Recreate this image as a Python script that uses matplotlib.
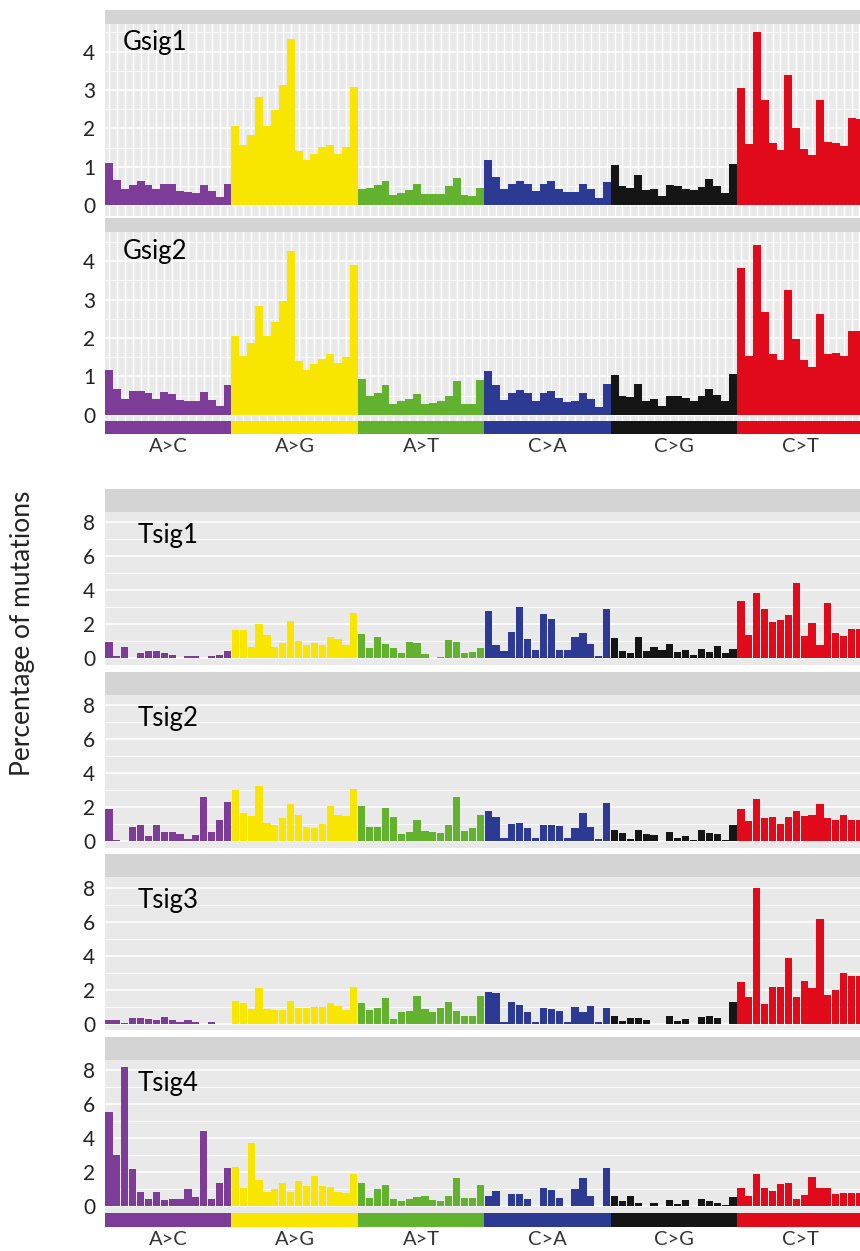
import matplotlib
matplotlib.use("Agg")
import matplotlib.pyplot as plt
import numpy as np

plt.rcParams['font.family'] = ['Lato', 'DejaVu Sans']

# six substitution classes, 16 trinucleotide contexts each
mutation_types = ['A>C', 'A>G', 'A>T', 'C>A', 'C>G', 'C>T']
type_colors = ['#7d3c98', '#f9e600', '#62b22f', '#2d3a94', '#151515', '#e10a1a']

gsig1 = [1.11, 0.65, 0.41, 0.52, 0.63, 0.52, 0.41, 0.56, 0.56, 0.37, 0.35, 0.33, 0.52, 0.36, 0.22, 0.56,
         2.05, 1.58, 1.83, 2.83, 2.07, 2.48, 3.13, 4.33, 1.40, 1.17, 1.34, 1.52, 1.56, 1.34, 1.52, 3.07,
         0.41, 0.46, 0.52, 0.62, 0.26, 0.33, 0.39, 0.55, 0.28, 0.29, 0.30, 0.50, 0.72, 0.26, 0.23, 0.45,
         1.17, 0.74, 0.41, 0.56, 0.62, 0.56, 0.37, 0.56, 0.62, 0.43, 0.35, 0.35, 0.55, 0.41, 0.19, 0.61,
         1.04, 0.49, 0.46, 0.80, 0.39, 0.43, 0.23, 0.52, 0.50, 0.42, 0.39, 0.48, 0.67, 0.49, 0.33, 1.08,
         3.05, 1.60, 4.50, 2.75, 1.63, 1.45, 3.38, 2.01, 1.47, 1.32, 2.73, 1.65, 1.63, 1.54, 2.28, 2.25]

gsig2 = [1.16, 0.68, 0.42, 0.61, 0.63, 0.57, 0.42, 0.58, 0.55, 0.39, 0.37, 0.37, 0.58, 0.39, 0.24, 0.77,
         2.04, 1.52, 1.87, 2.83, 2.04, 2.41, 2.96, 4.26, 1.39, 1.16, 1.33, 1.45, 1.57, 1.35, 1.50, 3.91,
         0.94, 0.48, 0.57, 0.77, 0.28, 0.37, 0.42, 0.55, 0.29, 0.30, 0.37, 0.50, 0.87, 0.28, 0.28, 0.91,
         1.14, 0.78, 0.39, 0.57, 0.65, 0.57, 0.37, 0.57, 0.61, 0.43, 0.33, 0.36, 0.57, 0.42, 0.20, 0.81,
         1.03, 0.48, 0.46, 0.81, 0.36, 0.42, 0.24, 0.49, 0.48, 0.44, 0.36, 0.48, 0.68, 0.52, 0.35, 1.07,
         3.83, 1.53, 4.42, 2.68, 1.59, 1.42, 3.26, 1.96, 1.42, 1.24, 2.62, 1.57, 1.62, 1.52, 2.17, 2.17]

tsig1 = [0.94, 0.14, 0.65, 0.00, 0.29, 0.43, 0.43, 0.33, 0.16, 0.00, 0.14, 0.14, 0.00, 0.14, 0.18, 0.45,
         1.63, 1.67, 0.63, 2.02, 1.37, 0.63, 0.88, 2.20, 1.02, 0.75, 0.88, 0.75, 1.27, 1.14, 0.75, 2.65,
         1.41, 0.59, 1.27, 0.82, 0.59, 0.33, 0.94, 0.88, 0.24, 0.00, 0.06, 1.08, 0.94, 0.33, 0.35, 0.59,
         2.75, 0.78, 0.45, 1.57, 3.00, 1.14, 0.49, 2.61, 2.31, 0.49, 0.49, 1.22, 1.47, 0.84, 0.10, 2.88,
         1.18, 0.45, 0.33, 1.22, 0.43, 0.63, 0.49, 0.84, 0.39, 0.49, 0.20, 0.55, 0.39, 0.69, 0.29, 0.55,
         3.37, 1.37, 3.86, 2.90, 2.10, 2.25, 2.55, 4.41, 1.31, 2.06, 0.78, 3.24, 1.51, 1.33, 1.71, 1.71]

tsig2 = [1.87, 0.08, 0.00, 0.83, 0.96, 0.27, 0.96, 0.53, 0.53, 0.43, 0.14, 0.33, 2.59, 0.53, 1.22, 2.30,
         2.99, 1.65, 1.45, 3.22, 1.06, 0.92, 1.32, 2.16, 1.51, 0.83, 0.73, 1.02, 2.04, 1.55, 1.47, 3.03,
         2.04, 0.83, 0.79, 1.91, 1.41, 0.39, 0.53, 1.22, 0.59, 0.53, 0.49, 0.92, 2.59, 0.59, 0.77, 1.51,
         1.75, 1.38, 0.20, 1.02, 1.08, 0.73, 0.20, 0.96, 0.92, 0.88, 0.20, 0.77, 1.67, 0.79, 0.14, 2.24,
         0.63, 0.47, 0.14, 0.63, 0.43, 0.33, 0.00, 0.53, 0.20, 0.27, 0.05, 0.63, 0.47, 0.39, 0.08, 0.96,
         1.87, 1.18, 2.44, 1.36, 1.38, 1.02, 1.38, 1.75, 1.47, 1.51, 2.20, 1.32, 1.22, 1.51, 1.22, 1.22]

tsig3 = [0.20, 0.20, 0.05, 0.33, 0.33, 0.28, 0.20, 0.40, 0.20, 0.10, 0.20, 0.06, 0.00, 0.10, 0.00, 0.00,
         1.30, 1.20, 0.85, 2.07, 0.85, 0.79, 0.79, 1.30, 0.89, 0.89, 1.00, 0.95, 1.18, 1.04, 0.79, 2.17,
         1.18, 0.81, 0.89, 1.50, 0.26, 0.65, 0.71, 1.64, 0.85, 0.65, 0.89, 1.28, 0.75, 0.45, 0.45, 1.60,
         1.83, 1.77, 0.10, 1.28, 1.08, 0.69, 0.10, 0.91, 0.85, 0.71, 0.10, 0.99, 0.65, 1.04, 0.10, 0.91,
         0.45, 0.16, 0.31, 0.31, 0.20, 0.00, 0.00, 0.45, 0.16, 0.26, 0.00, 0.39, 0.45, 0.30, 0.00, 1.28,
         2.42, 1.58, 8.00, 1.14, 2.13, 2.13, 3.86, 1.58, 2.48, 2.07, 6.17, 1.69, 1.99, 2.98, 2.82, 2.82]

tsig4 = [5.53, 3.00, 8.20, 2.17, 0.83, 0.43, 0.83, 0.36, 0.40, 0.40, 0.99, 0.55, 4.41, 0.40, 1.38, 2.23,
         2.31, 1.09, 3.70, 1.52, 0.85, 0.99, 1.38, 0.85, 1.48, 1.19, 1.78, 1.19, 1.15, 0.85, 0.79, 1.88,
         1.34, 0.49, 0.99, 1.23, 0.40, 0.30, 0.40, 0.55, 0.59, 0.36, 0.30, 0.59, 1.68, 0.49, 0.49, 1.23,
         0.59, 0.89, 0.04, 0.73, 0.73, 0.45, 0.04, 1.09, 0.95, 0.49, 0.04, 0.99, 1.64, 0.59, 0.04, 2.27,
         0.59, 0.30, 0.59, 0.20, 0.04, 0.20, 0.00, 0.34, 0.14, 0.34, 0.00, 0.43, 0.30, 0.20, 0.10, 0.55,
         1.09, 0.59, 1.92, 1.09, 0.89, 1.28, 1.34, 0.40, 0.63, 1.72, 1.09, 1.09, 0.69, 0.79, 0.79, 0.79]

W, H = 860, 1251
fig = plt.figure(figsize=(W / 100, H / 100), dpi=100)

X0 = 105            # left edge of the panels, px
XW = 96 * 7.9       # panel width (runs slightly past the right edge)
x = np.arange(96)
bar_colors = np.repeat(type_colors, 16)
panel_bg = '#e9e9e9'
strip_bg = '#d4d4d4'


def px_axes(top, height, left=X0, width=XW):
    return fig.add_axes([left / W, 1 - (top + height) / H, width / W, height / H])


def strip(top, height):
    ax = px_axes(top, height)
    ax.set_facecolor(strip_bg)
    ax.set_xticks([])
    ax.set_yticks([])
    for s in ax.spines.values():
        s.set_visible(False)


def panel(top, height, values, ylim, major, minor, kind):
    ax = px_axes(top, height)
    ax.set_facecolor(panel_bg)
    width = 1.0 if kind == 'G' else 0.9
    ax.bar(x, values, width=width, color=bar_colors, linewidth=0, zorder=3)
    ax.set_xlim(-0.5, 95.5)
    ax.set_ylim(*ylim)
    ax.set_yticks(major)
    ax.set_yticks(minor, minor=True)
    ax.set_yticklabels([str(v) for v in major], fontsize=15, color='#222222')
    ax.grid(axis='y', which='major', color='white', lw=1.1)
    ax.grid(axis='y', which='minor', color='white', lw=0.6)
    if kind == 'G':
        ax.set_xticks(x)
        ax.grid(axis='x', which='major', color='white', lw=1.0)
    else:
        ax.set_xticks([])
    ax.set_xticklabels([])
    ax.set_axisbelow(True)
    ax.tick_params(which='both', length=0, pad=7)
    for s in ax.spines.values():
        s.set_visible(False)
    return ax


def band(top, height):
    ax = px_axes(top, height)
    centers = np.arange(6) * 16 + 7.5
    ax.bar(centers, np.ones(6), width=16, color=type_colors, linewidth=0)
    ax.set_xlim(-0.5, 95.5)
    ax.set_ylim(0, 1)
    ax.set_yticks([])
    ax.set_xticks(centers)
    ax.set_xticklabels(mutation_types, fontsize=14.5, color='#333333')
    ax.tick_params(length=0, pad=3)
    for s in ax.spines.values():
        s.set_visible(False)


def label(px, py, text, size):
    fig.text(px / W, 1 - py / H, text, fontsize=size, color='black', va='baseline')


# genome-derived signatures
g_major = [0, 1, 2, 3, 4]
g_minor = [0.5, 1.5, 2.5, 3.5, 4.5]
strip(9.5, 14)
panel(23.5, 192.5, gsig1, (-0.28, 4.73), g_major, g_minor, 'G')
label(122.5, 50, 'Gsig1', 18.5)
strip(218, 14)
panel(232, 188.5, gsig2, (-0.15, 4.76), g_major, g_minor, 'G')
label(122.5, 259.5, 'Gsig2', 18.5)
band(421, 13)

# tumour-derived signatures
t_major = [0, 2, 4, 6, 8]
t_minor = [1, 3, 5, 7]
t_sigs = [tsig1, tsig2, tsig3, tsig4]
t_names = ['Tsig1', 'Tsig2', 'Tsig3', 'Tsig4']
t_tops = [489, 671.7, 854.3, 1037]
for vals, name, top in zip(t_sigs, t_names, t_tops):
    strip(top, 23)
    panel(top + 23, 153, vals, (-0.4, 8.6), t_major, t_minor, 'T')
    label(138, top + 54, name, 18.5)
band(1213, 14)

fig.text(23 / W, 1 - 633 / H, 'Percentage of mutations', rotation=90,
         fontsize=19, color='#222222', ha='center', va='center')

fig.savefig('out.png', dpi=100)
